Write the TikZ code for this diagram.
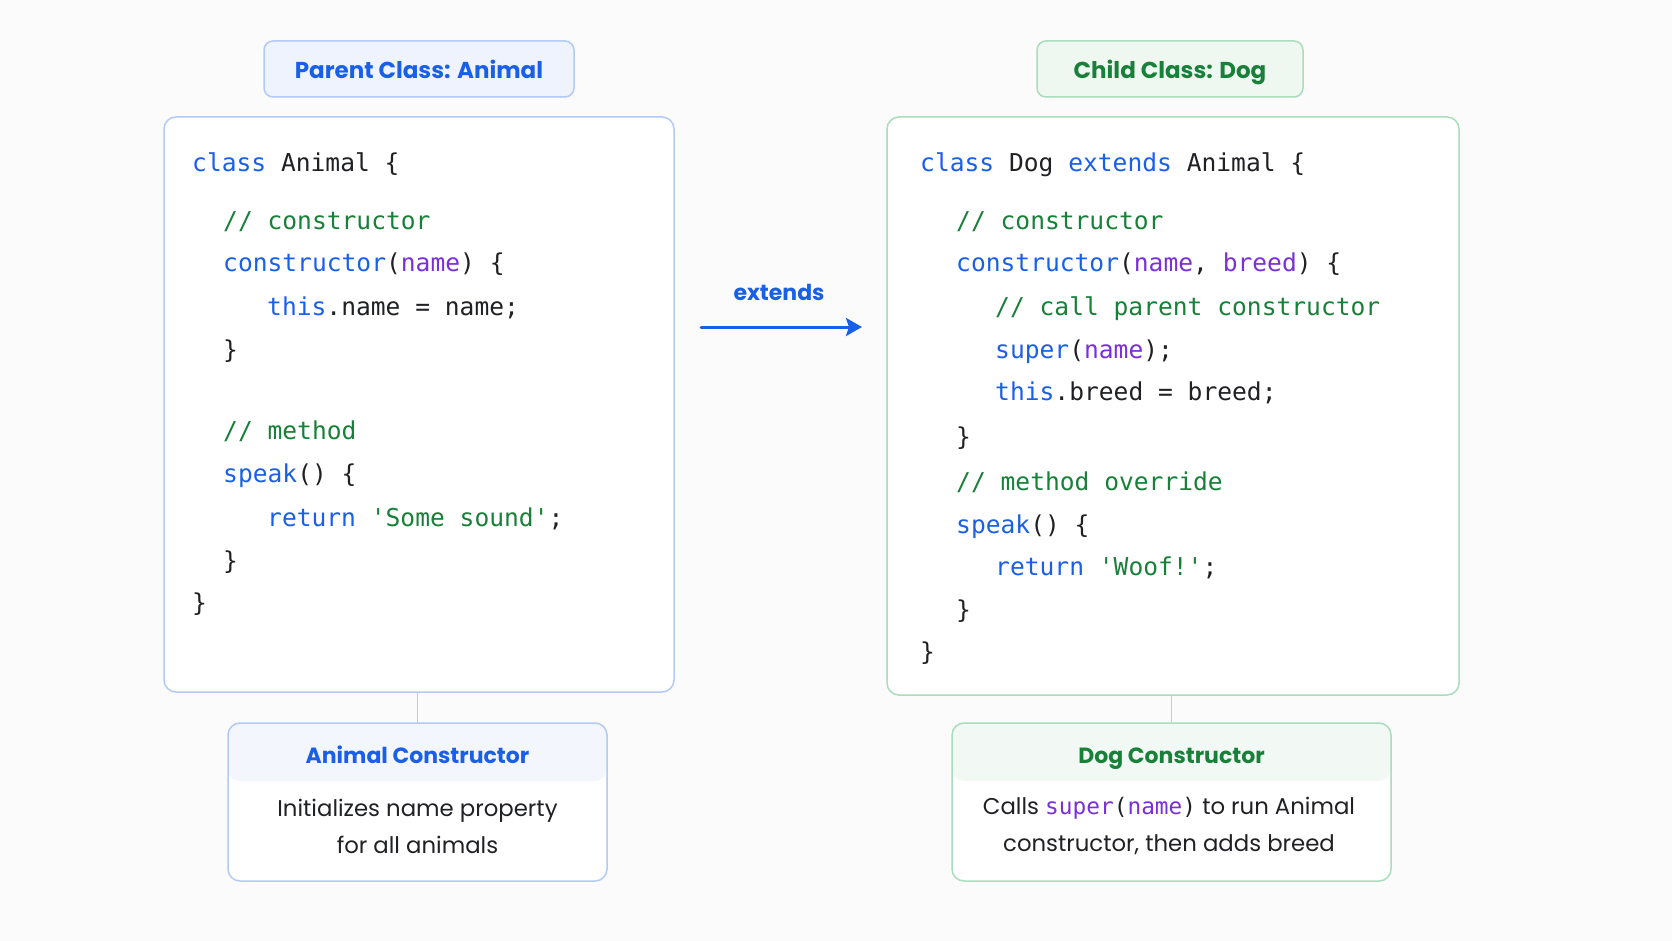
\documentclass[tikz,border=0pt]{standalone}
\usepackage{fontspec}
\setmainfont{Poppins}
\setmonofont{DejaVu Sans Mono}
\usepackage{tikz}
\usetikzlibrary{arrows.meta}
\usepackage{xcolor}
\definecolor{ink}{HTML}{202124}
\definecolor{kwblue}{HTML}{1A5FE8}
\definecolor{cmtgreen}{HTML}{188038}
\definecolor{prmpurple}{HTML}{7B2FD9}
\definecolor{blueline}{HTML}{B3C9F6}
\definecolor{bluefill}{HTML}{EEF3FD}
\definecolor{bluehead}{HTML}{F3F6FC}
\definecolor{greenline}{HTML}{A9DDBB}
\definecolor{greenfill}{HTML}{EEF7F0}
\definecolor{greenhead}{HTML}{F2F8F3}
\definecolor{pagebg}{HTML}{FBFBFB}
\newcommand{\kw}[1]{\textcolor{kwblue}{#1}}
\newcommand{\cmt}[1]{\textcolor{cmtgreen}{#1}}
\newcommand{\prm}[1]{\textcolor{prmpurple}{#1}}

\begin{document}
\begin{tikzpicture}[x=1pt,y=-1pt,line cap=round,
  codeline/.style={anchor=base west,inner sep=0pt,text=ink,font=\ttfamily\fontsize{24.6}{24.6}\selectfont},
  titletext/.style={inner sep=0pt,text height=17pt,text depth=5pt,font=\bfseries\fontsize{23}{23}\selectfont},
  constext/.style={align=center,text=ink,font=\fontsize{22.8}{37}\selectfont}]
\useasboundingbox[fill=pagebg] (0,0) rectangle (1672,941);

% parent side
\node[draw=blueline,fill=bluefill,line width=1.5pt,rounded corners=9pt,minimum width=310pt,minimum height=56pt] (parenttitle) at (419,69) {};
\node[titletext,text=kwblue] (parenttitletext) at (419,73) {Parent Class: Animal};
\node[draw=blueline,fill=white,line width=1.5pt,rounded corners=12pt,minimum width=510pt,minimum height=575pt] (parentbox) at (419,404.5) {};
\node[codeline] (a1) at (192,172) {\kw{class} Animal \{};
\node[codeline] (a2) at (223,230) {\cmt{// constructor}};
\node[codeline] (a3) at (223,272) {\kw{constructor}(\prm{name}) \{};
\node[codeline] (a4) at (267,315) {\kw{this}.name = name;};
\node[codeline] (a5) at (223,358) {\}};
\node[codeline] (a6) at (223,439) {\cmt{// method}};
\node[codeline] (a7) at (223,482) {\kw{speak}() \{};
\node[codeline] (a8) at (267,526) {\kw{return} \cmt{'Some sound'};};
\node[codeline] (a9) at (223,569) {\}};
\node[codeline] (a10) at (192,611) {\}};

\node[draw=blueline,fill=white,line width=1.5pt,rounded corners=12pt,minimum width=379pt,minimum height=158pt,
  path picture={\fill[bluehead] (path picture bounding box.north west) rectangle ([yshift=-58pt]path picture bounding box.north east);}] (animalcons) at (417.5,802) {};
\node[titletext,text=kwblue,font=\bfseries\fontsize{22}{22}\selectfont] (animalconstitle) at (417.5,757) {Animal Constructor};
\node[constext] (animalconsbody) at (417.5,826) {Initializes name property\\for all animals};
\draw[blueline,line width=1.8pt] (animalcons.north |- parentbox.south) -- (animalcons.north);

% child side
\node[draw=greenline,fill=greenfill,line width=1.5pt,rounded corners=9pt,minimum width=266pt,minimum height=56pt] (childtitle) at (1170,69) {};
\node[titletext,text=cmtgreen] (childtitletext) at (1170,73) {Child Class: Dog};
\node[draw=greenline,fill=white,line width=1.5pt,rounded corners=12pt,minimum width=572pt,minimum height=578pt] (childbox) at (1173,406) {};
\node[codeline] (d1) at (920,172) {\kw{class} Dog \kw{extends} Animal \{};
\node[codeline] (d2) at (956,230) {\cmt{// constructor}};
\node[codeline] (d3) at (956,272) {\kw{constructor}(\prm{name}, \prm{breed}) \{};
\node[codeline] (d4) at (995,315) {\cmt{// call parent constructor}};
\node[codeline] (d5) at (995,358) {\kw{super}(\prm{name});};
\node[codeline] (d6) at (995,400) {\kw{this}.breed = breed;};
\node[codeline] (d7) at (956,445) {\}};
\node[codeline] (d8) at (956,490) {\cmt{// method override}};
\node[codeline] (d9) at (956,533) {\kw{speak}() \{};
\node[codeline] (d10) at (995,575) {\kw{return} \cmt{'Woof!'};};
\node[codeline] (d11) at (956,618) {\}};
\node[codeline] (d12) at (920,660) {\}};

\node[draw=greenline,fill=white,line width=1.5pt,rounded corners=12pt,minimum width=439pt,minimum height=158pt,
  path picture={\fill[greenhead] (path picture bounding box.north west) rectangle ([yshift=-58pt]path picture bounding box.north east);}] (dogcons) at (1171.5,802) {};
\node[titletext,text=cmtgreen,font=\bfseries\fontsize{22}{22}\selectfont] (dogconstitle) at (1171.5,757) {Dog Constructor};
\node[constext] (dogconsbody) at (1169,826) {Calls {\ttfamily\prm{super}(\prm{name})} to run Animal\\constructor, then adds breed};
\draw[greenline,line width=1.8pt] (dogcons.north |- childbox.south) -- (dogcons.north);

% extends arrow
\coordinate (arrowstart) at (701,327);
\coordinate (arrowend) at (862,327);
\draw[kwblue,line width=3pt,-{Stealth[length=16pt,width=18pt,inset=3pt]}] (arrowstart) -- (arrowend);
\node[text=kwblue,font=\bfseries\fontsize{22}{22}\selectfont] (extendslabel) at (779,292) {extends};
\end{tikzpicture}
\end{document}
